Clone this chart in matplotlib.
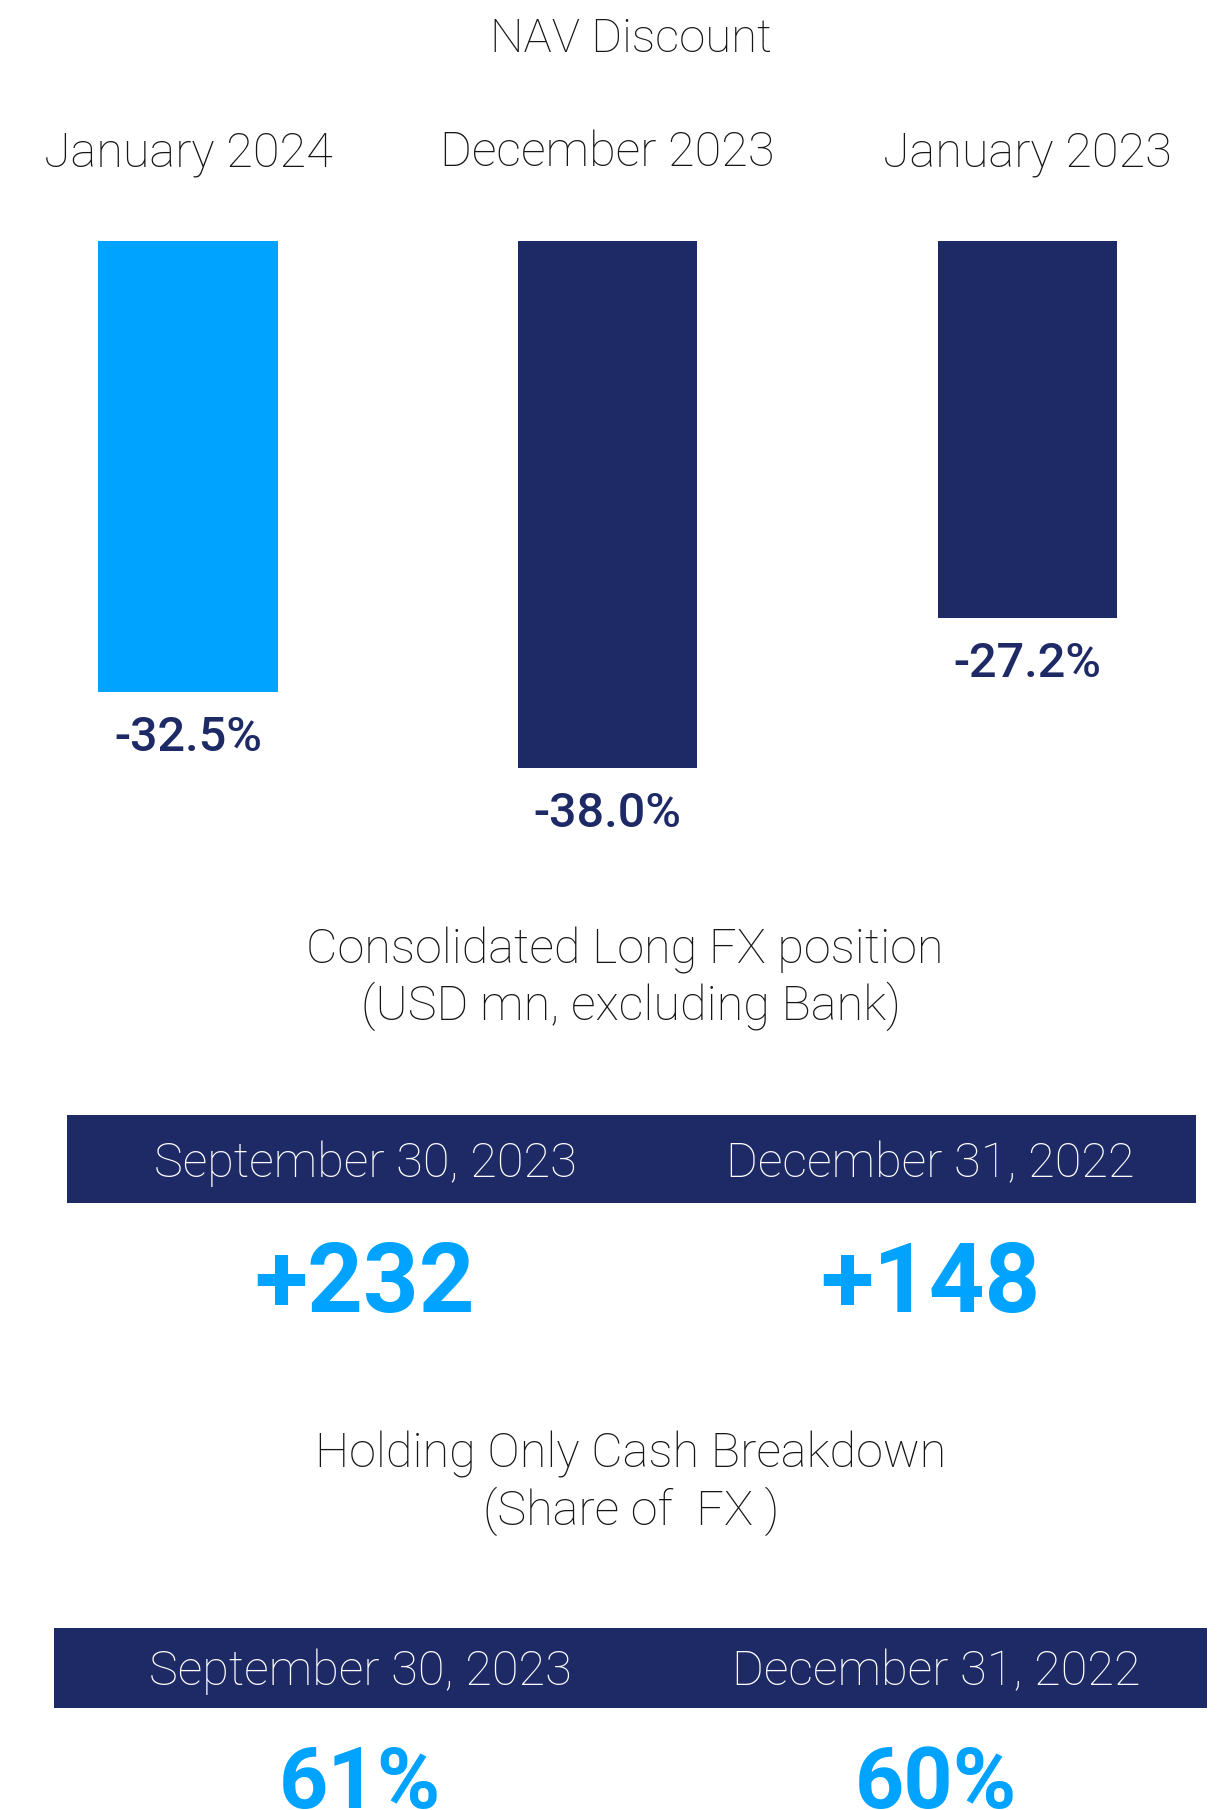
import matplotlib
matplotlib.use("Agg")
import matplotlib.pyplot as plt
from matplotlib.patches import Rectangle

# ---- data ----
nav_periods = ["January 2024", "December 2023", "January 2023"]
nav_discount = [-32.5, -38.0, -27.2]
nav_colors = ["#00A3FF", "#1E2A66", "#1E2A66"]

fx_dates = ["September 30, 2023", "December 31, 2022"]
fx_position = [232, 148]

cash_dates = ["September 30, 2023", "December 31, 2022"]
cash_fx_share = [61, 60]

NAVY = "#1E2A66"
CYAN = "#00A3FF"
INK = "#161616"

W, H = 1229, 1810
plt.rcParams["font.family"] = ["Roboto", "DejaVu Sans"]

fig = plt.figure(figsize=(W / 100, H / 100), dpi=100)
fig.patch.set_facecolor("white")


def fy(px):
    """Figure fraction for a pixel row measured from the top."""
    return 1 - px / H


def fx(px):
    return px / W


# ---- NAV discount bars ----
ax = fig.add_axes([0, 0, 1, 1])
ax.set_axis_off()
x0, step = 188, 419.5        # pixel centre of first bar, spacing between bars
zero_row, px_per_pct = 241, 13.87
ax.set_xlim(-x0 / step, (W - x0) / step)
ax.set_ylim(-(H - zero_row) / px_per_pct, zero_row / px_per_pct)

xs = list(range(len(nav_discount)))
ax.bar(xs, nav_discount, width=179 / step, color=nav_colors, linewidth=0)
for x, v in zip(xs, nav_discount):
    ax.annotate(f"{v:.1f}%", xy=(x, v), xytext=(0, -59),
                textcoords="offset pixels", ha="center", va="baseline",
                fontsize=35, fontweight="medium", color=NAVY)

fig.text(fx(631), fy(52), "NAV Discount", ha="center", va="baseline",
         fontsize=34, fontweight="light", color=INK)
for x, lab in zip(xs, nav_periods):
    fig.text(fx(x0 + step * x), fy(166), lab, ha="center", va="baseline",
             fontsize=35, fontweight="light", color=INK)

# ---- Consolidated long FX position ----
fig.text(fx(625), fy(963), "Consolidated Long FX position", ha="center",
         va="baseline", fontsize=35, fontweight="light", color=INK)
fig.text(fx(631), fy(1020), "(USD mn, excluding Bank)", ha="center",
         va="baseline", fontsize=35, fontweight="light", color=INK)

fig.patches.append(Rectangle((fx(67), fy(1203)), fx(1196 - 67), (1203 - 1115) / H,
                             transform=fig.transFigure, facecolor=NAVY,
                             edgecolor="none", zorder=0))
for cx, d, v in zip([365, 930], fx_dates, fx_position):
    fig.text(fx(cx), fy(1177), d, ha="center", va="baseline", fontsize=35,
             fontweight="light", color="white")
    fig.text(fx(cx), fy(1312), f"+{v}", ha="center", va="baseline",
             fontsize=70, fontweight="bold", color=CYAN)

# ---- Holding-only cash breakdown ----
fig.text(fx(631), fy(1467), "Holding Only Cash Breakdown", ha="center",
         va="baseline", fontsize=35, fontweight="light", color=INK)
fig.text(fx(631), fy(1525), "(Share of  FX )", ha="center",
         va="baseline", fontsize=35, fontweight="light", color=INK)

fig.patches.append(Rectangle((fx(54), fy(1708)), fx(1207 - 54), (1708 - 1628) / H,
                             transform=fig.transFigure, facecolor=NAVY,
                             edgecolor="none", zorder=0))
for cx, d, v in zip([360, 936], cash_dates, cash_fx_share):
    fig.text(fx(cx), fy(1685), d, ha="center", va="baseline", fontsize=35,
             fontweight="light", color="white")
    fig.text(fx(cx), fy(1808), f"{v}%", ha="center", va="baseline",
             fontsize=62, fontweight="bold", color=CYAN)

fig.savefig("out.png", dpi=100, facecolor="white")
